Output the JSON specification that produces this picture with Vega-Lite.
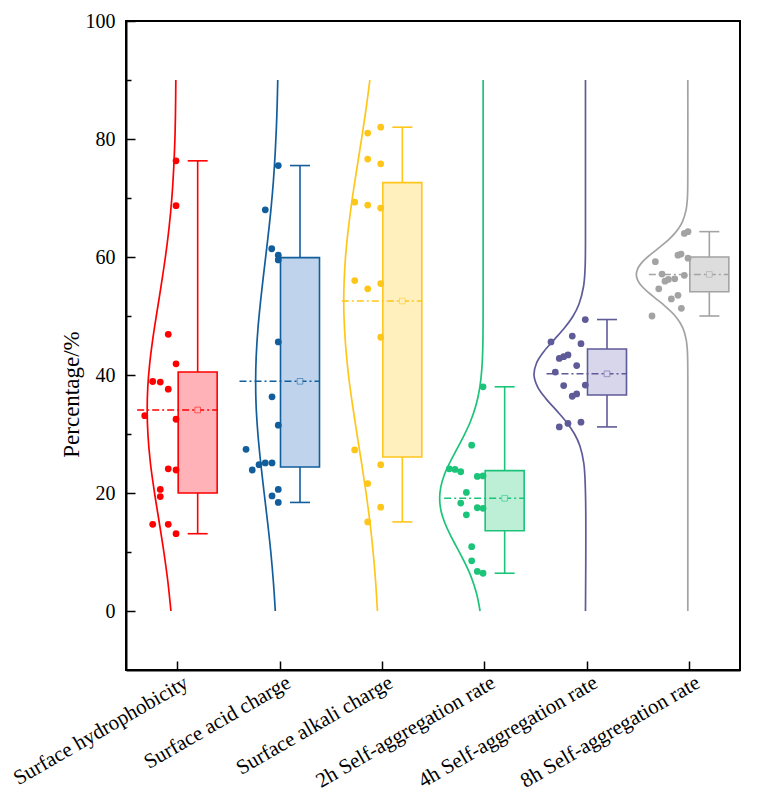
{
  "$schema": "https://vega.github.io/schema/vega-lite/v6.json",
  "width": 614,
  "height": 649,
  "autosize": "none",
  "padding": {"left": 126, "top": 21, "right": 22, "bottom": 129},
  "background": "white",
  "config": {
    "view": {"stroke": "black", "strokeWidth": 2},
    "axis": {"grid": false, "domainColor": "black", "domainWidth": 2, "tickColor": "black", "tickWidth": 1.5, "labelColor": "black", "labelFont": "Liberation Serif", "titleFont": "Liberation Serif", "titleColor": "black", "titleFontWeight": "normal"}
  },
  "datasets": {
    "curves": [
      {"c":1,"v":0,"x":0.939},{"c":1,"v":5,"x":0.909},{"c":1,"v":10,"x":0.870},{"c":1,"v":15,"x":0.825},{"c":1,"v":20,"x":0.779},{"c":1,"v":25,"x":0.739},{"c":1,"v":30,"x":0.714},{"c":1,"v":34,"x":0.707},{"c":1,"v":38,"x":0.713},{"c":1,"v":42,"x":0.732},{"c":1,"v":46,"x":0.761},{"c":1,"v":50,"x":0.796},{"c":1,"v":55,"x":0.842},{"c":1,"v":60,"x":0.885},{"c":1,"v":65,"x":0.921},{"c":1,"v":70,"x":0.948},{"c":1,"v":75,"x":0.966},{"c":1,"v":80,"x":0.978},{"c":1,"v":85,"x":0.984},{"c":1,"v":90,"x":0.987},
      {"c":2,"v":0,"x":1.959},{"c":2,"v":5,"x":1.940},{"c":2,"v":10,"x":1.915},{"c":2,"v":15,"x":1.884},{"c":2,"v":20,"x":1.850},{"c":2,"v":25,"x":1.817},{"c":2,"v":30,"x":1.789},{"c":2,"v":35,"x":1.771},{"c":2,"v":39,"x":1.767},{"c":2,"v":43,"x":1.772},{"c":2,"v":48,"x":1.790},{"c":2,"v":53,"x":1.818},{"c":2,"v":58,"x":1.851},{"c":2,"v":63,"x":1.885},{"c":2,"v":68,"x":1.916},{"c":2,"v":73,"x":1.941},{"c":2,"v":78,"x":1.959},{"c":2,"v":84,"x":1.974},{"c":2,"v":90,"x":1.983},
      {"c":3,"v":0,"x":2.957},{"c":3,"v":5,"x":2.939},{"c":3,"v":10,"x":2.915},{"c":3,"v":15,"x":2.884},{"c":3,"v":20,"x":2.846},{"c":3,"v":25,"x":2.803},{"c":3,"v":30,"x":2.757},{"c":3,"v":35,"x":2.713},{"c":3,"v":40,"x":2.674},{"c":3,"v":45,"x":2.646},{"c":3,"v":50,"x":2.630},{"c":3,"v":53,"x":2.628},{"c":3,"v":56,"x":2.632},{"c":3,"v":60,"x":2.645},{"c":3,"v":65,"x":2.674},{"c":3,"v":70,"x":2.712},{"c":3,"v":75,"x":2.756},{"c":3,"v":80,"x":2.802},{"c":3,"v":85,"x":2.845},{"c":3,"v":90,"x":2.883},
      {"c":4,"v":0,"x":3.960},{"c":4,"v":3,"x":3.925},{"c":4,"v":6,"x":3.868},{"c":4,"v":9,"x":3.787},{"c":4,"v":11,"x":3.726},{"c":4,"v":13,"x":3.666},{"c":4,"v":15,"x":3.614},{"c":4,"v":17,"x":3.578},{"c":4,"v":19,"x":3.565},{"c":4,"v":21,"x":3.576},{"c":4,"v":23,"x":3.609},{"c":4,"v":25,"x":3.660},{"c":4,"v":27,"x":3.720},{"c":4,"v":29,"x":3.781},{"c":4,"v":32,"x":3.863},{"c":4,"v":35,"x":3.922},{"c":4,"v":38,"x":3.958},{"c":4,"v":41,"x":3.977},{"c":4,"v":45,"x":3.987},{"c":4,"v":55,"x":3.990},{"c":4,"v":70,"x":3.990},{"c":4,"v":90,"x":3.990},
      {"c":5,"v":0,"x":4.990},{"c":5,"v":20,"x":4.990},{"c":5,"v":25,"x":4.974},{"c":5,"v":28,"x":4.935},{"c":5,"v":30,"x":4.883},{"c":5,"v":32,"x":4.805},{"c":5,"v":34,"x":4.706},{"c":5,"v":36,"x":4.603},{"c":5,"v":38,"x":4.522},{"c":5,"v":40,"x":4.487},{"c":5,"v":42,"x":4.511},{"c":5,"v":44,"x":4.584},{"c":5,"v":46,"x":4.685},{"c":5,"v":48,"x":4.786},{"c":5,"v":50,"x":4.869},{"c":5,"v":52,"x":4.926},{"c":5,"v":55,"x":4.971},{"c":5,"v":58,"x":4.986},{"c":5,"v":62,"x":4.990},{"c":5,"v":70,"x":4.990},{"c":5,"v":90,"x":4.990},
      {"c":6,"v":0,"x":5.990},{"c":6,"v":30,"x":5.990},{"c":6,"v":40,"x":5.990},{"c":6,"v":44,"x":5.986},{"c":6,"v":46,"x":5.974},{"c":6,"v":48,"x":5.941},{"c":6,"v":50,"x":5.867},{"c":6,"v":52,"x":5.746},{"c":6,"v":53,"x":5.674},{"c":6,"v":54,"x":5.604},{"c":6,"v":55,"x":5.543},{"c":6,"v":56,"x":5.502},{"c":6,"v":57,"x":5.487},{"c":6,"v":58,"x":5.500},{"c":6,"v":59,"x":5.538},{"c":6,"v":60,"x":5.597},{"c":6,"v":61,"x":5.667},{"c":6,"v":62,"x":5.739},{"c":6,"v":63,"x":5.806},{"c":6,"v":64,"x":5.862},{"c":6,"v":65,"x":5.906},{"c":6,"v":66,"x":5.938},{"c":6,"v":68,"x":5.973},{"c":6,"v":70,"x":5.986},{"c":6,"v":75,"x":5.990},{"c":6,"v":90,"x":5.990}
    ],
    "points": [
      {"c":1,"v":76.3,"x":0.989},{"c":1,"v":68.7,"x":0.989},{"c":1,"v":46.9,"x":0.913},{"c":1,"v":41.9,"x":0.989},{"c":1,"v":38.9,"x":0.761},{"c":1,"v":38.8,"x":0.835},{"c":1,"v":37.6,"x":0.913},{"c":1,"v":33.1,"x":0.683},{"c":1,"v":32.5,"x":0.989},{"c":1,"v":24.1,"x":0.913},{"c":1,"v":23.9,"x":0.989},{"c":1,"v":20.6,"x":0.835},{"c":1,"v":19.4,"x":0.835},{"c":1,"v":14.7,"x":0.761},{"c":1,"v":14.7,"x":0.913},{"c":1,"v":13.1,"x":0.989},
      {"c":2,"v":75.5,"x":1.988},{"c":2,"v":68.0,"x":1.861},{"c":2,"v":61.4,"x":1.924},{"c":2,"v":60.3,"x":1.988},{"c":2,"v":59.5,"x":1.988},{"c":2,"v":45.6,"x":1.988},{"c":2,"v":36.3,"x":1.927},{"c":2,"v":31.5,"x":1.988},{"c":2,"v":27.4,"x":1.673},{"c":2,"v":25.1,"x":1.861},{"c":2,"v":25.1,"x":1.927},{"c":2,"v":24.8,"x":1.800},{"c":2,"v":23.9,"x":1.734},{"c":2,"v":20.6,"x":1.988},{"c":2,"v":19.5,"x":1.927},{"c":2,"v":18.4,"x":1.988},
      {"c":3,"v":82.0,"x":2.989},{"c":3,"v":81.0,"x":2.862},{"c":3,"v":76.6,"x":2.862},{"c":3,"v":75.8,"x":2.989},{"c":3,"v":69.3,"x":2.735},{"c":3,"v":68.8,"x":2.862},{"c":3,"v":68.3,"x":2.989},{"c":3,"v":56.0,"x":2.735},{"c":3,"v":55.5,"x":2.989},{"c":3,"v":54.6,"x":2.862},{"c":3,"v":46.4,"x":2.989},{"c":3,"v":27.3,"x":2.735},{"c":3,"v":24.8,"x":2.989},{"c":3,"v":21.6,"x":2.862},{"c":3,"v":17.6,"x":2.989},{"c":3,"v":15.1,"x":2.862},
      {"c":4,"v":38.0,"x":3.989},{"c":4,"v":28.1,"x":3.878},{"c":4,"v":24.1,"x":3.659},{"c":4,"v":24.0,"x":3.715},{"c":4,"v":23.6,"x":3.771},{"c":4,"v":22.8,"x":3.933},{"c":4,"v":22.9,"x":3.989},{"c":4,"v":20.1,"x":3.826},{"c":4,"v":18.3,"x":3.771},{"c":4,"v":17.5,"x":3.933},{"c":4,"v":17.4,"x":3.989},{"c":4,"v":16.3,"x":3.826},{"c":4,"v":10.9,"x":3.878},{"c":4,"v":8.5,"x":3.878},{"c":4,"v":6.7,"x":3.933},{"c":4,"v":6.4,"x":3.989},
      {"c":5,"v":49.4,"x":4.988},{"c":5,"v":46.6,"x":4.861},{"c":5,"v":45.6,"x":4.653},{"c":5,"v":45.3,"x":4.946},{"c":5,"v":43.4,"x":4.819},{"c":5,"v":43.1,"x":4.777},{"c":5,"v":42.8,"x":4.734},{"c":5,"v":41.6,"x":4.904},{"c":5,"v":40.5,"x":4.695},{"c":5,"v":38.2,"x":4.777},{"c":5,"v":38.3,"x":4.988},{"c":5,"v":36.8,"x":4.904},{"c":5,"v":36.4,"x":4.861},{"c":5,"v":32.0,"x":4.946},{"c":5,"v":31.8,"x":4.819},{"c":5,"v":31.2,"x":4.734},
      {"c":6,"v":64.3,"x":5.992},{"c":6,"v":64.0,"x":5.956},{"c":6,"v":60.5,"x":5.924},{"c":6,"v":60.3,"x":5.894},{"c":6,"v":59.8,"x":5.992},{"c":6,"v":59.2,"x":5.673},{"c":6,"v":57.1,"x":5.738},{"c":6,"v":56.9,"x":5.956},{"c":6,"v":56.3,"x":5.862},{"c":6,"v":56.2,"x":5.800},{"c":6,"v":55.9,"x":5.767},{"c":6,"v":54.6,"x":5.706},{"c":6,"v":53.5,"x":5.894},{"c":6,"v":52.9,"x":5.829},{"c":6,"v":51.3,"x":5.927},{"c":6,"v":50.0,"x":5.640}
    ],
    "boxes": [
      {"c":1,"q1":20.0,"q3":40.5,"lo":13.1,"hi":76.3,"mean":34.07},
      {"c":2,"q1":24.4,"q3":59.9,"lo":18.4,"hi":75.5,"mean":38.93},
      {"c":3,"q1":26.1,"q3":72.6,"lo":15.1,"hi":82.0,"mean":52.54},
      {"c":4,"q1":13.6,"q3":23.8,"lo":6.4,"hi":38.0,"mean":19.1},
      {"c":5,"q1":36.6,"q3":44.4,"lo":31.2,"hi":49.4,"mean":40.2},
      {"c":6,"q1":54.1,"q3":60.0,"lo":50.0,"hi":64.3,"mean":57.05}
    ]
  },
  "layer": [
    {
      "data": {"name": "curves"},
      "mark": {"type": "line", "strokeWidth": 1.7, "interpolate": "catmull-rom"},
      "encoding": {
        "x": {"field": "x", "type": "quantitative", "scale": {"domain": [0.5, 6.5], "nice": false, "zero": false},
          "axis": {"values": [1,2,3,4,5,6], "title": null, "tickSize": -9, "labelAngle": -30, "labelAlign": "right", "labelBaseline": "middle", "labelPadding": 20, "labelOffset": 9, "labelFontSize": 21, "labelLimit": 400, "labelOverlap": false, "labelFlush": false,
            "labelExpr": "['','Surface hydrophobicity','Surface acid charge','Surface alkali charge','2h Self-aggregation rate','4h Self-aggregation rate','8h Self-aggregation rate'][datum.value]"}},
        "y": {"field": "v", "type": "quantitative", "scale": {"domain": [-10, 100], "nice": false, "zero": false},
          "axis": {"values": [0,10,20,30,40,50,60,70,80,90,100], "title": "Percentage/%", "titleFontSize": 23, "titleAngle": 270, "titleX": -48, "titleY": 373, "titleAlign": "center", "titleBaseline": "alphabetic",
            "labelExpr": "datum.value % 20 === 0 ? datum.label : ''", "labelFontSize": 20, "labelPadding": 20, "labelOverlap": false, "labelFlush": false,
            "tickSize": {"condition": {"test": "datum.value % 20 === 0", "value": -9}, "value": -5}}},
        "order": {"field": "v", "type": "quantitative"},
        "stroke": {"field": "c", "type": "nominal", "scale": {"domain": [1,2,3,4,5,6], "range": ["#FF0000","#125E9C","#FFC61A","#1CC47A","#5F5B98","#A3A3A3"]}, "legend": null}
      }
    },
    {
      "data": {"name": "boxes"},
      "mark": {"type": "rule", "strokeWidth": 1.6, "xOffset": 20.5},
      "encoding": {
        "x": {"field": "c", "type": "quantitative"},
        "y": {"field": "lo", "type": "quantitative"},
        "y2": {"field": "hi"},
        "stroke": {"field": "c", "type": "nominal", "legend": null}
      }
    },
    {
      "data": {"name": "boxes"},
      "mark": {"type": "rule", "strokeWidth": 1.6, "xOffset": 10.5, "x2Offset": 30.5},
      "encoding": {
        "x": {"field": "c", "type": "quantitative"},
        "x2": {"field": "c"},
        "y": {"field": "lo", "type": "quantitative"},
        "stroke": {"field": "c", "type": "nominal", "legend": null}
      }
    },
    {
      "data": {"name": "boxes"},
      "mark": {"type": "rule", "strokeWidth": 1.6, "xOffset": 10.5, "x2Offset": 30.5},
      "encoding": {
        "x": {"field": "c", "type": "quantitative"},
        "x2": {"field": "c"},
        "y": {"field": "hi", "type": "quantitative"},
        "stroke": {"field": "c", "type": "nominal", "legend": null}
      }
    },
    {
      "data": {"name": "boxes"},
      "mark": {"type": "rect", "strokeWidth": 1.6, "xOffset": 1, "x2Offset": 40},
      "encoding": {
        "x": {"field": "c", "type": "quantitative"},
        "x2": {"field": "c"},
        "y": {"field": "q1", "type": "quantitative"},
        "y2": {"field": "q3"},
        "fill": {"field": "c", "type": "nominal", "scale": {"domain": [1,2,3,4,5,6], "range": ["#FFB3B8","#BFD4EC","#FFF0BE","#BDEFD6","#D7D6EA","#DDDDDD"]}, "legend": null},
        "stroke": {"field": "c", "type": "nominal", "legend": null}
      }
    },
    {
      "data": {"name": "boxes"},
      "mark": {"type": "rule", "strokeWidth": 1.5, "strokeDash": [7, 3, 2, 3], "xOffset": -40, "x2Offset": 40},
      "encoding": {
        "x": {"field": "c", "type": "quantitative"},
        "x2": {"field": "c"},
        "y": {"field": "mean", "type": "quantitative"},
        "stroke": {"field": "c", "type": "nominal", "legend": null}
      }
    },
    {
      "data": {"name": "points"},
      "mark": {"type": "point", "filled": true, "size": 46, "opacity": 1},
      "encoding": {
        "x": {"field": "x", "type": "quantitative"},
        "y": {"field": "v", "type": "quantitative"},
        "color": {"field": "c", "type": "nominal", "scale": {"domain": [1,2,3,4,5,6], "range": ["#FF0000","#125E9C","#FFC61A","#1CC47A","#5F5B98","#A3A3A3"]}, "legend": null}
      }
    },
    {
      "data": {"name": "boxes"},
      "mark": {"type": "point", "shape": "square", "size": 32, "strokeWidth": 0.9, "opacity": 1, "strokeOpacity": 0.6, "xOffset": 20.5},
      "encoding": {
        "x": {"field": "c", "type": "quantitative"},
        "y": {"field": "mean", "type": "quantitative"},
        "fill": {"field": "c", "type": "nominal", "legend": null},
        "stroke": {"field": "c", "type": "nominal", "legend": null}
      }
    }
  ]
}
